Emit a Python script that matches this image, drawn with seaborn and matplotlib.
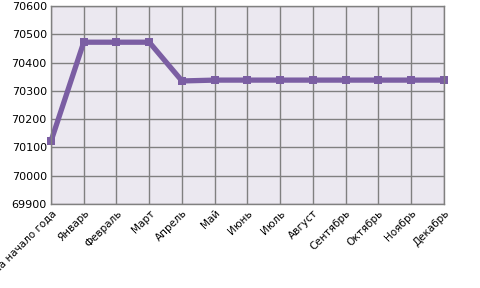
import matplotlib
matplotlib.use("Agg")
import matplotlib.pyplot as plt
import seaborn as sns
import pandas as pd

months = ["На начало года", "Январь", "Февраль", "Март", "Апрель", "Май", "Июнь",
          "Июль", "Август", "Сентябрь", "Октябрь", "Ноябрь", "Декабрь"]
values = [70122, 70472, 70472, 70472, 70335, 70338, 70338,
          70338, 70338, 70338, 70338, 70338, 70338]
yticks = [69900, 70000, 70100, 70200, 70300, 70400, 70500, 70600]

df = pd.DataFrame({"x": range(len(months)), "v": values})

sns.set_style("white")
plt.rcParams['font.family'] = ['DejaVu Sans']

fig = plt.figure(figsize=(4.8, 2.88), dpi=100)
ax = fig.add_axes([51/480, 1-204/288, (444-51)/480, (204-6)/288])
ax.set_facecolor("#EBE8F0")
ax.set_axisbelow(True)

sns.lineplot(data=df, x="x", y="v", ax=ax, color="#7B5EA3", linewidth=3.8,
             marker="s", markersize=6, markeredgewidth=0, clip_on=False)

ax.set_xlim(0, len(months) - 1)
ax.set_ylim(69900, 70600)
ax.set_xticks(range(len(months)))
ax.set_xticklabels(months, rotation=45, ha="right", rotation_mode="anchor",
                   fontsize=7.5, color="black")
ax.set_yticks(yticks)
ax.set_yticklabels([str(t) for t in yticks], fontsize=8, color="black")
ax.grid(True, color="#808080", linewidth=1)
for s in ax.spines.values():
    s.set_color("#808080")
    s.set_linewidth(1)
ax.tick_params(axis="both", length=0, pad=3)
ax.set_xlabel("")
ax.set_ylabel("")

fig.savefig("out.png", dpi=100)
